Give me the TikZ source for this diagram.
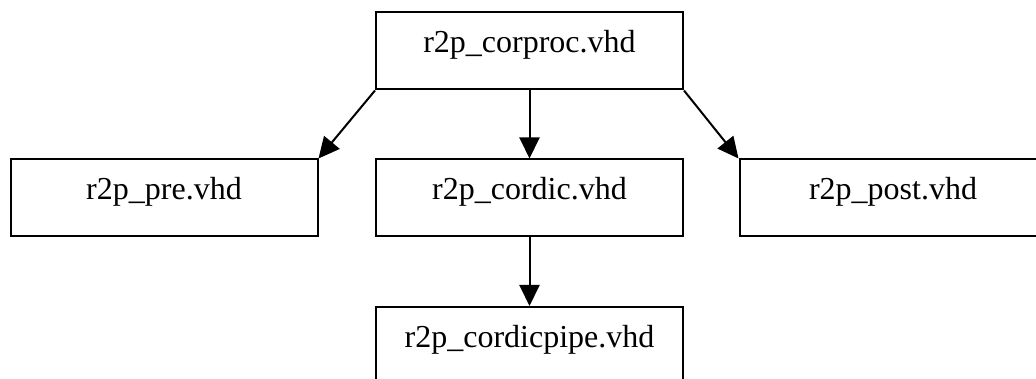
\documentclass[tikz,border=0pt]{standalone}
\usepackage{fontspec}
\setmainfont{Liberation Serif}
\usetikzlibrary{arrows.meta}
\begin{document}
\begin{tikzpicture}[x=1pt,y=-1pt,
  filebox/.style={draw=black, line width=2pt, rectangle, inner sep=0pt,
    minimum width=307pt, minimum height=77pt, text height=22pt, text depth=18pt,
    font=\fontsize{32}{38}\selectfont},
  dep/.style={line width=2pt, -{Triangle[length=21pt,width=20pt]}}]
\useasboundingbox (0,0) rectangle (1036,379);
\node[filebox] (top) at (529.5,51) {r2p\_corproc.vhd};
\node[filebox] (pre) at (164,198) {r2p\_pre.vhd};
\node[filebox] (cordic) at (529.5,198) {r2p\_cordic.vhd};
\node[filebox] (post) at (893,198) {r2p\_post.vhd};
\node[filebox] (pipe) at (529.5,345.5) {r2p\_cordicpipe.vhd};
\draw[dep] (top.south west) -- (pre.north east);
\draw[dep] (top.south) -- (cordic.north);
\draw[dep] (top.south east) -- (post.north west);
\draw[dep] (cordic.south) -- (pipe.north);
\end{tikzpicture}
\end{document}
